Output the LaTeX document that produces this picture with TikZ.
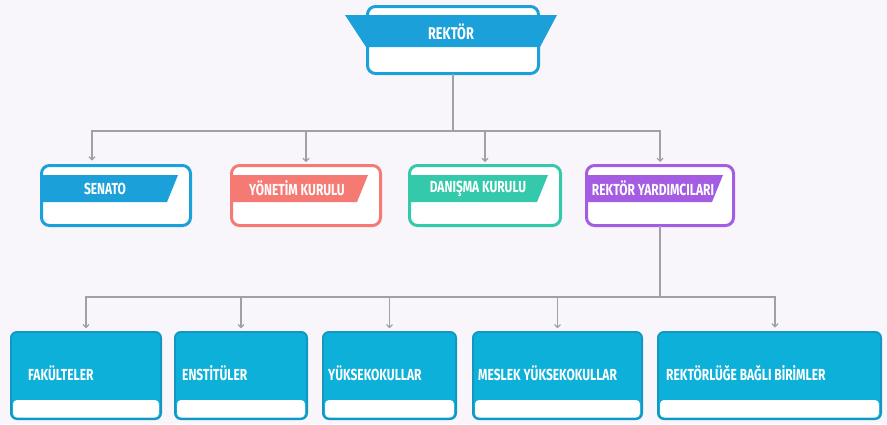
\documentclass[tikz,border=0pt]{standalone}
\usepackage{fontspec}
\setmainfont{Fira Sans}[FakeStretch=0.75]
\usetikzlibrary{arrows.meta,calc}
\definecolor{bg}{RGB}{248,246,251}
\definecolor{cblue}{RGB}{28,160,218}
\definecolor{ccyan}{RGB}{12,176,216}
\definecolor{ccyand}{RGB}{20,150,195}
\definecolor{ccoral}{RGB}{246,122,116}
\definecolor{cteal}{RGB}{52,201,170}
\definecolor{cpurple}{RGB}{164,92,226}
\definecolor{cline}{RGB}{160,160,166}
\begin{document}
\begin{tikzpicture}[x=1pt,y=-1pt,
 lbl/.style={text=white, font=\fontsize{16}{18}\selectfont\bfseries, inner sep=0pt},
 orgbox/.style={draw=#1, line width=3pt, fill=white, rounded corners=8pt, anchor=north west, inner sep=0pt, outer sep=0pt},
 unitbox/.style={draw=ccyand, line width=1.8pt, fill=ccyan, rounded corners=6pt, anchor=north west, inner sep=0pt, outer sep=0pt, minimum height=87.2pt},
 strip/.style={fill=white, rounded corners=4pt},
 conn/.style={draw=cline, line width=1.2pt},
 arr/.style={conn, -{Straight Barb[length=3pt,width=6pt]}, shorten >=3.5pt}
]
\fill[bg] (0,0) rectangle (887,424);
\useasboundingbox (0,0) rectangle (887,424);

% ---- Rektor
\node[orgbox=cblue, minimum width=171pt, minimum height=67pt] (rektor) at (367.5,6.5) {};
\fill[cblue] (345,15) -- (557,15) -- (540,47) -- (366,47) -- cycle;
\node[lbl, font=\fontsize{17}{19}\selectfont\bfseries] (rektorlbl) at (451,32) {REKTÖR};

% ---- second level
\node[orgbox=cblue, minimum width=149pt, minimum height=60pt] (senato) at (41.5,165.5) {};
\fill[cblue] (40,175) -- (178,175) -- (167,202) -- (40,202) -- cycle;
\node[lbl] (senatolbl) at (105,188.5) {SENATO};

\node[orgbox=ccoral, minimum width=149pt, minimum height=60pt] (yon) at (231.5,165.5) {};
\fill[ccoral] (230,175) -- (368,175) -- (357,202) -- (230,202) -- cycle;
\node[lbl] (yonlbl) at (297,188.5) {YÖNETİM KURULU};

\node[orgbox=cteal, minimum width=151pt, minimum height=60pt] (dan) at (409.5,165.5) {};
\fill[cteal] (408,175) -- (548,175) -- (537,202) -- (408,202) -- cycle;
\node[lbl] (danlbl) at (478,188.5) {DANIŞMA KURULU};

\node[orgbox=cpurple, minimum width=147pt, minimum height=60pt] (yard) at (586.5,165.5) {};
\fill[cpurple] (585,175) -- (723,175) -- (712,202) -- (585,202) -- cycle;
\node[lbl] (yardlbl) at (653,188.5) {REKTÖR YARDIMCILARI};

% ---- third level
\node[unitbox, minimum width=150.2pt] (fak) at (10.9,331.9) {};
\fill[strip] (13,400) rectangle (159,417.5);
\node[lbl, anchor=west] (faklbl) at (28,373) {FAKÜLTELER};

\node[unitbox, minimum width=132.2pt] (ens) at (174.9,331.9) {};
\fill[strip] (177,400) rectangle (305,417.5);
\node[lbl, anchor=west] (enslbl) at (182,373) {ENSTİTÜLER};

\node[unitbox, minimum width=133.2pt] (yuk) at (322.9,331.9) {};
\fill[strip] (325,400) rectangle (454,417.5);
\node[lbl, anchor=west] (yuklbl) at (328,373) {YÜKSEKOKULLAR};

\node[unitbox, minimum width=169.2pt] (mes) at (472.9,331.9) {};
\fill[strip] (475,400) rectangle (640,417.5);
\node[lbl, anchor=west] (meslbl) at (478,373) {MESLEK YÜKSEKOKULLAR};

\node[unitbox, minimum width=223.2pt] (rbb) at (657.9,331.9) {};
\fill[strip] (660,400) rectangle (879,417.5);
\node[lbl, anchor=west] (rbblbl) at (666,373) {REKTÖRLÜĞE BAĞLI BİRİMLER};

% ---- connectors level 1
\coordinate (j1) at (rektor.south |- 0,131);
\coordinate (tsen) at (92,164);
\draw[conn] (rektor.south) -- (j1);
\draw[arr] (j1) -| (tsen);
\draw[arr] (j1) -| (yon.north);
\draw[arr] (j1) -| (dan.north);
\draw[arr] (j1) -| (yard.north);

% ---- connectors level 2
\coordinate (j2) at (yard.south |- 0,297);
\coordinate (trbb) at (775,331);
\draw[conn] (yard.south) -- (j2);
\draw[arr] (j2) -| (fak.north);
\draw[arr] (j2) -| (ens.north);
\draw[arr] (j2) -| (yuk.north);
\draw[arr] (j2) -| (mes.north);
\draw[arr] (j2) -| (trbb);
\end{tikzpicture}
\end{document}
